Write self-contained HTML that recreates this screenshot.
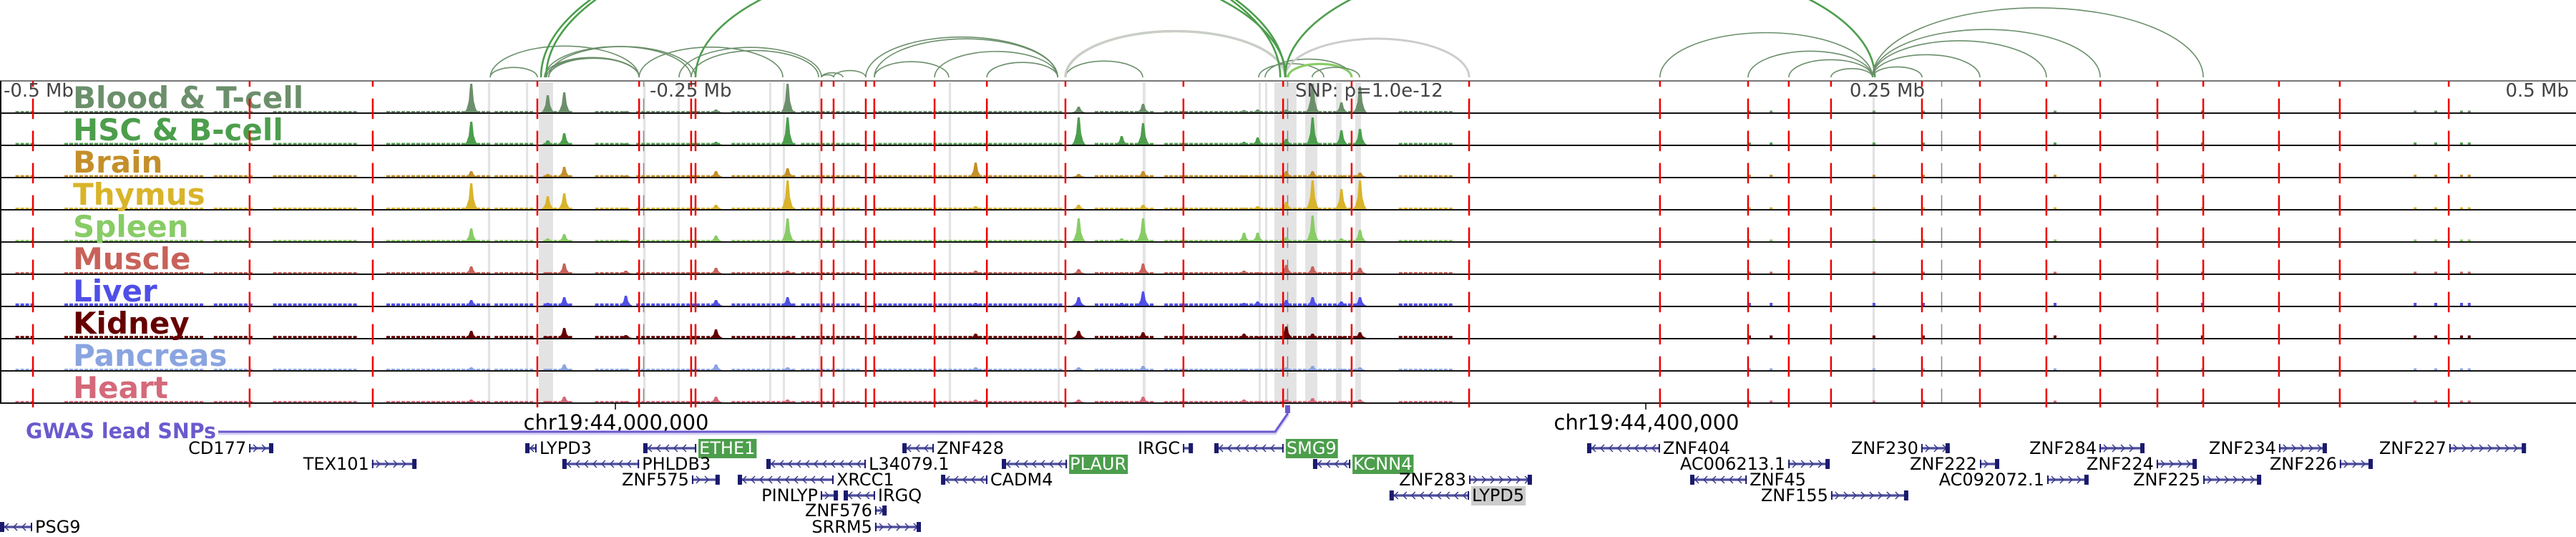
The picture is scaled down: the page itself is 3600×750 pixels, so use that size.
<!DOCTYPE html>
<html><head><meta charset="utf-8"><style>
html,body{margin:0;padding:0;background:#fff;}
svg{display:block;font-family:"DejaVu Sans","Liberation Sans",sans-serif;}
</style></head><body>
<svg id="fig" width="3600" height="750" viewBox="0 0 3600 750" xmlns="http://www.w3.org/2000/svg">
<g id="arcs"></g>
<g id="bands"></g>
<g id="tracks"></g>
<g id="reds"></g>
<g id="axis"></g>
<g id="genes"></g>
</svg>
<script>
// ---- data (positions in kb relative to lead SNP) ----
const trackNames = ["Blood & T-cell","HSC & B-cell","Brain","Thymus","Spleen","Muscle","Liver","Kidney","Pancreas","Heart"];
const trackColors = ["#6b8f6b","#4c9e4c","#c48f2a","#d9b42a","#88cc66","#c8625a","#4f4fe8","#660000","#8aa4e0","#d4697a"];
const peakKb = [-317.2,-287.5,-281.1,-257.2,-222.2,-194.4,-81.4,-64.7,-56.4,-121.4,-17.2,-11.9,-0.8,9.4,20.6,27.8];
const peakBlood    = [1.0,0.6,0.7,0.05,0.1,1.0,0.2,0.05,0.3,0.05,0.08,0.1,0.1,1.0,0.35,0.9];
const peakHSC      = [0.8,0.15,0.4,0.05,0.1,0.95,0.95,0.3,0.75,0.05,0.1,0.25,0.2,0.95,0.5,0.55];
const peakBrain    = [0.2,0.1,0.35,0.05,0.2,0.3,0.1,0.05,0.2,0.5,0.05,0.05,0.2,0.2,0.05,0.15];
const peakThymus   = [0.9,0.45,0.55,0.05,0.15,1.0,0.15,0.05,0.15,0.1,0.05,0.1,0.25,1.0,0.7,1.0];
const peakSpleen   = [0.45,0.1,0.25,0.05,0.2,0.8,0.8,0.1,0.8,0.05,0.3,0.3,0.15,0.9,0.1,0.4];
const peakMuscle   = [0.25,0.05,0.35,0.1,0.2,0.1,0.15,0.05,0.35,0.1,0.1,0.05,0.3,0.25,0.05,0.2];
const peakLiver    = [0.2,0.1,0.3,0.35,0.2,0.3,0.3,0.1,0.5,0.1,0.1,0.15,0.2,0.3,0.15,0.3];
const peakKidney   = [0.25,0.05,0.35,0.1,0.3,0.05,0.25,0.05,0.2,0.15,0.15,0.05,0.4,0.15,0.05,0.2];
const peakPancreas = [0.1,0.05,0.2,0.05,0.2,0.1,0.1,0.05,0.15,0.1,0.05,0.05,0.1,0.15,0.05,0.1];
const peakHeart    = [0.1,0.05,0.2,0.05,0.2,0.1,0.1,0.05,0.2,0.1,0.1,0.05,0.1,0.15,0.05,0.1];
const peakSets = [peakBlood,peakHSC,peakBrain,peakThymus,peakSpleen,peakMuscle,peakLiver,peakKidney,peakPancreas,peakHeart];
const bgLevel = [0.05,0.06,0.06,0.05,0.05,0.05,0.08,0.07,0.05,0.05];
const bgStartKb = [-494,-475,-417,-394,-350,-308,-289,-269,-253,-216,-189,-161,-75,-48,0,43];
const bgEndKb   = [-488,-422,-403,-361,-311,-294,-278,-256,-220,-192,-167,-89,-53,0,28,64];
const smallKb = [178.6,187,226.9,246.1,297.2,354.4,437,445,455,458];
const redKb = [-487.2,-403.1,-355.3,-291.4,-251.9,-231.7,-230,-181.1,-176.4,-163.9,-160.6,-137.2,-116.9,-86.4,-40.6,-1.9,24.7,70.3,144.4,178.6,194.4,210.8,246.1,268.6,294.4,315.3,337.5,355.3,384.7,408.3,450.6];
const bandStartKb = [-310.6,-295.8,-290.8,-250.3,-237,-201.4,-196.1,-182.2,-172.8,-131.7,-89.4,-56.4,-11.4,-8.9,-5.3,6.7,18.6,26.1,226.9];
const bandEndKb   = [-309.7,-295,-285.3,-249.4,-236.1,-200.6,-195.3,-181.4,-171.9,-130.8,-88.6,-55.3,-10.6,-8.1,3.3,11.4,20.8,28.3,227.8];
const arcStartKb = [-309.7,-309.7,-288.6,-287.8,-287,-288.6,-287,-230,-251.9,-236.4,-231.7,-181.1,-181.1,-176.4,-163.9,-160.6,-160.6,-137.2,-116.9,-86.4,-86.4,-86.4,-86.4,-288,-290,-11.4,-8.9,0,9.4,-1.1,-1.1,144.4,178.6,194.4,210.8,226.9,226.9,226.9,226.9,226.9];
const arcEndKb   = [-251.9,-291.4,-251.9,-251.9,-251.9,-231.7,-230,-0.8,-196.1,-181.1,-182.2,-176.4,-172.8,-163.9,-89.4,-89.4,-131.7,-89.4,-89.4,-56.4,-1.1,-1.1,-1.1,-1.1,-3,13.9,24.7,24.7,27.8,70.3,227.8,226.9,226.9,226.9,226.9,246.1,268.6,294.4,315.3,355.3];
const arcType    = [0,0,0,0,0,0,0,1,0,0,0,0,0,0,0,0,0,0,0,0,0,2,3,1,1,0,0,2,0,3,1,0,0,0,0,0,0,0,0,0];
const geneNames  = ["CD177","TEX101","LYPD3","ETHE1","PHLDB3","ZNF575","XRCC1","L34079.1","ZNF428","CADM4","PINLYP","IRGQ","ZNF576","SRRM5","PSG9","PLAUR","IRGC","SMG9","KCNN4","ZNF283","LYPD5","ZNF404","AC006213.1","ZNF45","ZNF155","ZNF230","ZNF222","AC092072.1","ZNF284","ZNF224","ZNF225","ZNF234","ZNF226","ZNF227"];
const geneStartKb = [-403.3,-355.6,-296.1,-250.3,-281.7,-231.4,-213.6,-202.5,-149.7,-134.7,-181.4,-172.5,-160.3,-160.3,-500,-111.1,-40.8,-28.6,9.7,70.3,39.4,116.1,194.2,156.1,210.8,245.8,268.6,294.7,315,337.2,355.3,384.7,408.3,450.8];
const geneEndKb   = [-393.9,-338.3,-291.7,-229.7,-251.9,-220.6,-176.4,-163.9,-137.5,-116.7,-174.7,-160.3,-155.8,-142.5,-487.5,-85.8,-36.9,-1.7,24.2,94.7,70.3,144.4,210.3,178.1,240.8,256.9,276.1,310.8,332.5,352.8,377.8,403.3,421.1,480.6];
const geneRow    = [0,1,0,0,1,2,2,1,0,2,3,3,4,5,5,1,0,0,1,2,3,0,1,2,3,0,1,2,0,1,2,0,1,0];
const geneStrand = ["+","+","-","-","-","+","-","-","-","-","+","-","+","+","-","-","+","-","-","+","-","-","+","-","+","+","+","+","+","+","+","+","+","+"];
const geneHi     = ["","","","g","","","","","","","","","","","","g","","g","g","","s","","","","","","","","","","","","",""];
const axisLabels = ["-0.5 Mb","-0.25 Mb","SNP: p=1.0e-12","0.25 Mb","0.5 Mb"];
const axisKb = [-500,-250,0,250,500];
const chromLabels = ["chr19:44,000,000","chr19:44,400,000"];
const chromKb = [-261.1,138.9];

// ---- scales ----
const X = kb => 1800 + kb*3.6;
const TOP = 113, TH = 45, NT = trackNames.length, BOT = TOP + TH*NT;
const NS = "http://www.w3.org/2000/svg";
function mk(tag, attrs, parent){const e=document.createElementNS(NS,tag);for(const k in attrs)e.setAttribute(k,attrs[k]);parent.appendChild(e);return e;}
const gArcs=document.getElementById('arcs'),gBands=document.getElementById('bands'),gTracks=document.getElementById('tracks'),gReds=document.getElementById('reds'),gAxis=document.getElementById('axis'),gGenes=document.getElementById('genes');

// arcs
const arcColor=["#6b8f6b","#4c9e4c","#88cc66","#cccccc"], arcW=[1.6,2.6,3.2,3];
const clip=mk('clipPath',{id:'arcclip'},gArcs); mk('rect',{x:0,y:0,width:3600,height:110},clip);
const arcG=mk('g',{'clip-path':'url(#arcclip)'},gArcs);
arcStartKb.forEach((s,i)=>{
  const x1=X(s),x2=X(arcEndKb[i]); const rx=Math.abs(x2-x1)/2; const ry=rx*0.42;
  const p=mk('path',{d:`M${x1},108 A${rx},${ry} 0 0 1 ${x2},108`,fill:'none',stroke:arcColor[arcType[i]],'stroke-width':arcW[arcType[i]]},arcG);
  
  
});

// bands
bandStartKb.forEach((s,i)=>{
  const r=mk('rect',{x:X(s),y:TOP+2,width:Math.max(3,X(bandEndKb[i])-X(s)),height:BOT-TOP-2,fill:'#e3e3e3'},gBands);
  
  
});
[-250,0,250].forEach(k=>{ const l=mk('line',{x1:X(k)-0.5+(k==250?14:0),x2:X(k)-0.5+(k==250?14:0),y1:TOP,y2:BOT,stroke:'#888','stroke-width':1.5,'stroke-dasharray':'28.5 16.5','stroke-dashoffset':20.4},gBands);
  
  });

// tracks
trackNames.forEach((name,t)=>{
  const top=TOP+t*TH, base=top+TH-1, col=trackColors[t];
  const g=mk('g',{},gTracks);
  
  
  bgStartKb.forEach((s,i)=>{ for(let x=X(s);x<X(bgEndKb[i]);x+=7){ mk('rect',{x:x,y:base-bgLevel[t]*40,width:5,height:bgLevel[t]*40,fill:col},g);} });
  smallKb.forEach(k=>{ mk('rect',{x:X(k),y:base-bgLevel[t]*50,width:4,height:bgLevel[t]*50,fill:col},g); });
  peakKb.forEach((k,i)=>{ const h=peakSets[t][i]*40, x=X(k);
    const p=mk('path',{d:`M${x-9},${base} L${x-6},${base-h*0.12} L${x-3},${base-h*0.4} L${x-1},${base-h} L${x+2},${base-h} L${x+4},${base-h*0.4} L${x+7},${base-h*0.12} L${x+10},${base} Z`,fill:col},g);
    
    
  });
  mk('line',{x1:0,x2:3600,y1:top+TH,y2:top+TH,stroke:'#111','stroke-width':2},g);
  const tx=mk('text',{x:102,y:top+38,'font-size':42,'font-weight':'bold',fill:col},g); tx.textContent=name;
  
  
});
mk('line',{x1:0,x2:3600,y1:TOP,y2:TOP,stroke:'#777','stroke-width':2},gTracks);
mk('line',{x1:1,x2:1,y1:TOP,y2:BOT,stroke:'#111','stroke-width':2},gTracks);

// red dashed lines
redKb.forEach(k=>{ const l=mk('line',{x1:X(k),x2:X(k),y1:TOP,y2:BOT+6,stroke:'#ee0000','stroke-width':2.5,'stroke-dasharray':'28.5 16.5','stroke-dashoffset':20.4},gReds);
  
  });

// axis labels
axisLabels.forEach((s,i)=>{ const x=X(axisKb[i]); let anchor='start',xx=x+8;
  if(i==0){xx=5;} if(i==3){anchor='end';xx=x-10;} if(i==4){anchor='end';xx=3590;} if(i==2){xx=x+10;}
  const t=mk('text',{x:xx,y:135,'font-size':26,fill:'#444','text-anchor':anchor},gAxis); t.textContent=s;
  
  });
chromLabels.forEach((s,i)=>{ const x=X(chromKb[i]);
  mk('line',{x1:x,x2:x,y1:BOT+1,y2:BOT+9,stroke:'#000','stroke-width':1.5},gAxis);
  const t=mk('text',{x:x+1,y:600,'font-size':29,fill:'#000','text-anchor':'middle'},gAxis); t.textContent=s;
  
  });

// GWAS
const gw=mk('g',{},gGenes);  
mk('polyline',{points:`305,605 ${X(-5)},605 ${X(0)},579`,fill:'none',stroke:'#d8d4f4','stroke-width':5},gw);
mk('polyline',{points:`305,603 ${X(-5)},603 ${X(0)},577`,fill:'none',stroke:'#6a5acd','stroke-width':3},gw);
mk('rect',{x:X(0)-4,y:566,width:7,height:11,fill:'#6a5acd'},gw);
const gt=mk('text',{x:36,y:612,'font-size':29,'font-weight':'bold',fill:'#6a5acd',textLength:266,lengthAdjust:'spacingAndGlyphs'},gw); gt.textContent='GWAS lead SNPs';

// genes
const rowY=[626,648,670,692,713,736];
geneNames.forEach((n,i)=>{
  const x1=X(geneStartKb[i]),x2=X(geneEndKb[i]),y=rowY[geneRow[i]],plus=geneStrand[i]=='+';
  const g=mk('g',{},gGenes);
  
  
  mk('line',{x1:x1,x2:x2,y1:y,y2:y,stroke:'#8888c4','stroke-width':4},g);
  mk('line',{x1:x1,x2:x2,y1:y,y2:y,stroke:'#3a3a8c','stroke-width':1.5},g);
  for(let x=x1+9;x<x2-6;x+=12){ const d=plus?`M${x-3},${y-5} L${x+2},${y} L${x-3},${y+5}`:`M${x+3},${y-5} L${x-2},${y} L${x+3},${y+5}`; mk('path',{d:d,fill:'none',stroke:'#3a3a8c','stroke-width':1.5},g); }
  const bx=plus?x2-6:x1; mk('rect',{x:bx,y:y-7,width:6,height:14,fill:'#1a1a6e'},g);
  mk('rect',{x:plus?x1:x2-2,y:y-6,width:2,height:12,fill:'#1a1a6e'},g);
  const right=!plus; const tx=right?x2+4:x1-4;
  const t=mk('text',{x:tx,y:y+8,'font-size':24,fill:geneHi[i]=='g'?'#fff':'#000','text-anchor':right?'start':'end'},g);
  t.textContent=n;
  if(geneHi[i]){ const w=t.getComputedTextLength(); const r=mk('rect',{x:tx-1,y:y-13,width:w+3,height:27,fill:geneHi[i]=='g'?'#4c9e4c':'#cccccc'},g); g.insertBefore(r,t); }
});
</script>
</body></html>
